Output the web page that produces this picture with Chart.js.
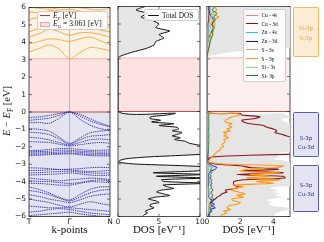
<!DOCTYPE html>
<html>
<head>
<meta charset="utf-8">
<script src="https://cdn.jsdelivr.net/npm/chart.js@4.4.1/dist/chart.umd.min.js"></script>
<style>
  html, body { margin: 0; padding: 0; background: #fff; }
  body { width: 324px; height: 242px; position: relative; overflow: hidden; font-family: 'Liberation Serif', serif; }
  canvas { position: absolute; top: 0; }
  .ylabel { position: absolute; left: 8px; top: 111px; transform: translate(-50%, -50%) rotate(-90deg); font-size: 10.5px; white-space: nowrap; color: #222; }
  .legend { position: absolute; box-sizing: border-box; background: rgba(255,255,255,0.85); border: 0.8px solid #cfcfcf; border-radius: 2px; }
  .legtext { position: absolute; white-space: nowrap; transform: translateY(-50%); color: #111; }
  .sample { position: absolute; }
  .note { position: absolute; box-sizing: border-box; border: 1px solid; border-radius: 1.5px; }
  .notetext { position: absolute; left: 0; width: 100%; text-align: center; font-family: 'DejaVu Sans', sans-serif; font-size: 5.5px; transform: translateY(-50%); }
</style>
</head>
<body>
<canvas id="bandChart" width="114" height="242" style="left:0"></canvas>
<canvas id="totalChart" width="96" height="242" style="left:110px"></canvas>
<canvas id="pdosChart" width="100" height="242" style="left:198px"></canvas>
<div class="ylabel"><i>E</i> − <i>E</i><sub style="font-size:7.5px">F</sub> [eV]</div>
<script>
// ---- energy window / gap ----
const eMin = -6, eMax = 6;
const fermiLevel = 0;
const gapTop = 3.061;
const yTicks = [-6, -5, -4, -3, -2, -1, 0, 1, 2, 3, 4, 5, 6];

// ---- band structure: k path T - Γ - N ----
const kPath = [0, 0.25, 0.5, 0.75, 1, 1.25, 1.5, 1.75, 2];
const kTickPos = [0, 1, 2];
const kTickLabels = ['T', 'Γ', 'N'];

const valenceBands = [
  [-0.32, -0.28, -0.2, -0.08, 0.0, -0.12, -0.38, -0.62, -0.82],
  [-0.48, -0.42, -0.35, -0.18, 0.0, -0.22, -0.5, -0.7, -0.85],
  [-0.62, -0.6, -0.65, -0.35, 0.0, -0.4, -0.75, -0.95, -1.05],
  [-0.95, -1.0, -1.1, -1.45, -1.8, -1.5, -1.2, -1.1, -1.05],
  [-1.15, -1.2, -1.3, -1.55, -1.85, -1.6, -1.4, -1.35, -1.3],
  [-1.45, -1.5, -1.6, -1.75, -1.9, -1.75, -1.6, -1.55, -1.6],
  [-1.7, -1.72, -1.75, -1.85, -1.95, -1.88, -1.8, -1.75, -1.8],
  [-2.2, -2.2, -2.15, -2.1, -2.1, -2.15, -2.2, -2.2, -2.18],
  [-2.28, -2.27, -2.25, -2.2, -2.2, -2.25, -2.28, -2.3, -2.3],
  [-2.35, -2.35, -2.33, -2.3, -2.28, -2.32, -2.36, -2.38, -2.4],
  [-2.42, -2.42, -2.4, -2.38, -2.36, -2.4, -2.45, -2.46, -2.46],
  [-2.5, -2.48, -2.45, -2.42, -2.4, -2.45, -2.5, -2.52, -2.52],
  [-3.2, -3.22, -3.25, -3.3, -3.28, -3.25, -3.2, -3.18, -3.2],
  [-3.35, -3.35, -3.32, -3.3, -3.32, -3.38, -3.42, -3.4, -3.35],
  [-3.5, -3.48, -3.45, -3.42, -3.4, -3.45, -3.5, -3.52, -3.5],
  [-3.62, -3.6, -3.58, -3.55, -3.5, -3.55, -3.62, -3.65, -3.62],
  [-3.8, -3.85, -3.9, -3.95, -3.9, -3.85, -3.8, -3.82, -3.88],
  [-3.95, -3.98, -4.0, -4.05, -4.1, -4.05, -3.95, -3.9, -3.95],
  [-4.1, -4.1, -4.15, -4.2, -4.2, -4.1, -4.0, -4.02, -4.05],
  [-4.3, -4.45, -4.65, -4.9, -5.05, -4.75, -4.45, -4.3, -4.3],
  [-4.5, -4.6, -4.75, -4.95, -5.1, -4.9, -4.65, -4.5, -4.45],
  [-4.75, -4.85, -5.0, -5.1, -5.2, -5.05, -4.85, -4.75, -4.7],
  [-5.0, -5.1, -5.2, -5.35, -5.45, -5.3, -5.15, -5.25, -5.35],
  [-5.4, -5.45, -5.5, -5.5, -5.5, -5.55, -5.6, -5.65, -5.7],
  [-5.75, -5.7, -5.6, -5.55, -5.6, -5.7, -5.8, -5.85, -5.9],
  [-5.95, -5.9, -5.85, -5.8, -5.75, -5.85, -5.92, -5.98, -6.05]
];

const conductionBands = [
  [3.45, 3.65, 3.85, 3.6, 3.06, 3.4, 3.7, 3.65, 3.5],
  [3.9, 4.05, 4.2, 4.15, 4.05, 4.2, 4.3, 4.1, 3.85],
  [4.3, 4.5, 4.75, 4.6, 4.4, 4.55, 4.55, 4.45, 4.3],
  [4.6, 4.8, 4.95, 4.85, 4.75, 4.85, 4.9, 4.7, 4.6],
  [5.3, 5.45, 5.5, 5.35, 5.15, 5.35, 5.1, 4.95, 4.85],
  [5.75, 5.7, 5.8, 5.85, 5.9, 5.8, 5.6, 5.5, 5.45],
  [6.05, 5.95, 5.9, 6.0, 6.1, 6.0, 5.9, 5.85, 5.95]
];

// ---- DOS: shared energy grid (eV) ----
const energies = [
  6.0, 5.8, 5.6, 5.4, 5.2, 5.0, 4.8, 4.6, 4.4, 4.2, 4.0, 3.8, 3.6, 3.4, 3.2, 3.06, 0.0,
  -0.1, -0.2, -0.3, -0.4, -0.5, -0.6, -0.7, -0.8, -0.9, -1.0,
  -1.1, -1.2, -1.3, -1.4, -1.5, -1.6, -1.7, -1.8, -1.9, -2.0,
  -2.1, -2.2, -2.3, -2.4, -2.5, -2.6, -2.7, -2.8, -2.9, -3.0,
  -3.1, -3.2, -3.3, -3.4, -3.5, -3.6, -3.7, -3.8, -3.9, -4.0,
  -4.1, -4.2, -4.3, -4.4, -4.5, -4.6, -4.7, -4.8, -4.9, -5.0,
  -5.1, -5.2, -5.3, -5.4, -5.5, -5.6, -5.7, -5.8, -5.9, -6.0
];

const totalDos = [
  3.3, 2.2, 3.6, 2.8, 4.2, 5.0, 4.6, 6.3, 5.0, 5.6, 4.6, 4.4, 3.4, 1.8, 0.5, 0, 0,
  7.0, 6.0, 4.0, 3.9, 5.2, 4.1, 6.8, 5.0, 7.2, 7.4,
  6.6, 7.8, 7.3, 6.6, 7.6, 6.9, 8.2, 8.6, 9.6, 11,
  14, 16, 15, 12, 8.0, 3.5, 1.0, 0.2, 0.1, 2.0,
  8.0, 12, 11, 9.5, 4.3, 10.5, 4.7, 10.5, 5.3, 5.6,
  11, 5.5, 6.0, 6.8, 5.2, 4.7, 5.5, 6.3, 4.5, 3.7,
  4.6, 5.0, 4.0, 3.9, 4.4, 3.8, 3.3, 3.6, 3.2, 3.0
];

// grey shading behind the projected DOS
const pdosShade = [
  6, 6, 6, 6, 6, 6, 6, 6, 6, 6, 6, 6, 4.6, 1.5, 0.3, 0, 0,
  4.6, 4.7, 5.2, 4.6, 4.5, 4.7, 5.5, 5.5, 5.5, 5.5,
  5.5, 5.5, 5.5, 5.5, 5.5, 4.8, 5.2, 4.9, 6, 6,
  6, 6, 4.8, 4.3, 4.2, 4.4, 4.0, 4.6, 5, 6,
  6, 6, 6, 6, 6, 6, 6, 6, 6, 6,
  6, 6, 4.2, 3.8, 4.3, 4.0, 4.4, 4.1, 4.6, 3.8,
  3.6, 3.9, 3.7, 4.0, 4.8, 5, 4.5, 4.2, 4.0, 4.1
];

const cu4s = [
  0.1, 0.1, 0.15, 0.1, 0.1, 0.05, 0.05, 0.05, 0.05, 0.05, 0.02, 0.02, 0.02, 0.01, 0, 0, 0,
  0.02, 0.02, 0.02, 0.02, 0.02, 0.02, 0.02, 0.02, 0.02, 0.02,
  0.02, 0.02, 0.02, 0.02, 0.02, 0.02, 0.02, 0.02, 0.02, 0.02,
  0.02, 0.02, 0.02, 0.02, 0.02, 0.02, 0.01, 0.01, 0.01, 0.05,
  0.1, 0.15, 0.1, 0.1, 0.15, 0.1, 0.1, 0.15, 0.2, 0.15,
  0.2, 0.25, 0.3, 0.2, 0.35, 0.25, 0.2, 0.3, 0.25, 0.2,
  0.3, 0.2, 0.25, 0.15, 0.2, 0.1, 0.15, 0.1, 0.1, 0.1
];
const cu3d = [
  0.1, 0.15, 0.1, 0.1, 0.1, 0.05, 0.05, 0.05, 0.05, 0.05, 0.02, 0.02, 0.02, 0.01, 0, 0, 0,
  2.0, 2.1, 3.2, 2.9, 2.1, 2.2, 2.6, 3.4, 3.6, 4.0,
  4.2, 4.1, 4.5, 4.8, 5.2, 6, 7, 8, 9, 10,
  12, 12, 10, 7, 2.5, 0.3, 0.1, 0.1, 0.1, 0.5,
  2.0, 2.6, 4.3, 2.2, 4.6, 1.8, 4.6, 4.7, 2.2, 1.6,
  1.6, 1.6, 1.9, 1.7, 1.1, 1.2, 0.9, 0.8, 0.6, 0.5,
  0.3, 0.2, 0.2, 0.15, 0.1, 0.1, 0.1, 0.1, 0.1, 0.1
];
const zn4s = [
  0.2, 0.15, 0.25, 0.2, 0.15, 0.2, 0.1, 0.1, 0.05, 0.05, 0.05, 0.02, 0.02, 0.01, 0, 0, 0,
  0.02, 0.02, 0.02, 0.02, 0.02, 0.02, 0.02, 0.02, 0.02, 0.02,
  0.02, 0.02, 0.02, 0.02, 0.02, 0.02, 0.02, 0.02, 0.02, 0.02,
  0.02, 0.02, 0.02, 0.02, 0.02, 0.02, 0.02, 0.02, 0.02, 0.05,
  0.05, 0.08, 0.06, 0.05, 0.05, 0.05, 0.05, 0.05, 0.05, 0.05,
  0.05, 0.05, 0.06, 0.08, 0.1, 0.1, 0.12, 0.1, 0.15, 0.2,
  0.25, 0.15, 0.2, 0.15, 0.1, 0.1, 0.1, 0.08, 0.08, 0.05
];
const zn3d = [
  0.1, 0.1, 0.15, 0.3, 0.4, 0.3, 0.35, 0.3, 0.2, 0.1, 0.05, 0.02, 0.02, 0.01, 0, 0, 0,
  0.03, 0.03, 0.03, 0.03, 0.03, 0.03, 0.03, 0.03, 0.03, 0.03,
  0.03, 0.03, 0.03, 0.03, 0.03, 0.03, 0.03, 0.03, 0.03, 0.03,
  0.04, 0.04, 0.05, 0.05, 0.05, 0.05, 0.05, 0.05, 0.1, 0.2,
  0.35, 0.6, 0.5, 0.25, 0.15, 0.1, 0.1, 0.12, 0.1, 0.1,
  0.1, 0.08, 0.08, 0.1, 0.1, 0.1, 0.1, 0.12, 0.1, 0.2,
  0.4, 0.25, 0.45, 0.3, 0.5, 0.2, 0.3, 0.15, 0.1, 0.1
];
const s3s = [
  0.05, 0.05, 0.08, 0.05, 0.05, 0.05, 0.03, 0.03, 0.03, 0.02, 0.02, 0.02, 0.01, 0.01, 0, 0, 0,
  0.02, 0.02, 0.02, 0.02, 0.02, 0.02, 0.02, 0.02, 0.02, 0.02,
  0.02, 0.02, 0.02, 0.02, 0.02, 0.02, 0.02, 0.02, 0.02, 0.02,
  0.02, 0.02, 0.02, 0.02, 0.02, 0.02, 0.02, 0.02, 0.02, 0.02,
  0.02, 0.03, 0.03, 0.02, 0.02, 0.02, 0.02, 0.03, 0.03, 0.03,
  0.03, 0.03, 0.03, 0.04, 0.05, 0.05, 0.05, 0.04, 0.05, 0.05,
  0.05, 0.08, 0.1, 0.08, 0.1, 0.12, 0.1, 0.15, 0.2, 0.25
];
const s3p = [
  0.4, 0.6, 0.3, 0.7, 0.3, 0.5, 0.3, 0.4, 0.2, 0.25, 0.15, 0.15, 0.1, 0.05, 0.02, 0, 0,
  1.6, 2.0, 1.5, 1.3, 1.1, 1.1, 1.5, 1.3, 1.5, 1.2,
  1.4, 1.0, 1.2, 1.0, 1.3, 1.0, 1.1, 1.0, 0.9, 1.0,
  0.8, 0.8, 0.6, 0.5, 0.4, 0.3, 0.2, 0.1, 0.1, 1.0,
  4.6, 4.2, 2.5, 2.0, 4.4, 2.6, 3.8, 2.4, 4.4, 3.0,
  4.0, 1.6, 2.2, 1.6, 1.5, 1.9, 2.3, 1.8, 2.2, 1.5,
  1.6, 2.0, 1.8, 1.3, 1.2, 1.4, 1.0, 1.2, 0.9, 0.8
];
const si3s = [
  0.3, 0.2, 0.35, 0.25, 0.3, 0.2, 0.2, 0.15, 0.1, 0.1, 0.05, 0.05, 0.02, 0.01, 0, 0, 0,
  0.02, 0.02, 0.02, 0.02, 0.02, 0.02, 0.02, 0.02, 0.02, 0.02,
  0.02, 0.02, 0.02, 0.02, 0.02, 0.02, 0.02, 0.02, 0.02, 0.02,
  0.02, 0.02, 0.02, 0.02, 0.02, 0.02, 0.02, 0.02, 0.02, 0.05,
  0.05, 0.05, 0.05, 0.05, 0.05, 0.05, 0.05, 0.05, 0.05, 0.05,
  0.05, 0.05, 0.08, 0.1, 0.1, 0.12, 0.1, 0.15, 0.12, 0.15,
  0.2, 0.15, 0.2, 0.15, 0.1, 0.1, 0.08, 0.08, 0.05, 0.05
];
const si3p = [
  0.5, 0.3, 0.6, 0.4, 0.5, 0.3, 0.45, 0.3, 0.35, 0.25, 0.2, 0.15, 0.1, 0.05, 0.02, 0, 0,
  0.1, 0.12, 0.1, 0.1, 0.1, 0.12, 0.1, 0.1, 0.12, 0.1,
  0.1, 0.1, 0.12, 0.1, 0.1, 0.1, 0.12, 0.1, 0.1, 0.1,
  0.08, 0.08, 0.08, 0.06, 0.05, 0.04, 0.03, 0.02, 0.02, 0.1,
  0.2, 0.3, 0.25, 0.2, 0.3, 0.2, 0.25, 0.2, 0.3, 0.25,
  0.3, 0.2, 0.25, 0.3, 0.35, 0.25, 0.3, 0.35, 0.3, 0.4,
  0.35, 0.3, 0.25, 0.3, 0.2, 0.25, 0.2, 0.15, 0.15, 0.1
];

const pdosLabels = ['Cu - 4s', 'Cu - 3d', 'Zn - 4s', 'Zn - 3d', 'S - 3s', 'S - 3p', 'Si - 3s', 'Si- 3p'];
const pdosSeries = [cu4s, cu3d, zn4s, zn3d, s3s, s3p, si3s, si3p];
const pdosColors = ['#f27a7a', '#8e1414', '#27c4f2', '#1414c8', '#d8a878', '#ff9812', '#8ed88e', '#1e7a30'];
const pdosWidths = [0.8, 1.1, 0.8, 1.0, 0.8, 1.1, 0.8, 1.0];

const totalTicks = [0, 5, 10];
const pdosTicks = [0, 2, 4];

// ---- colours ----
const valenceFill = '#e3e3f1';
const gapFill = '#fde2e2';
const gapFillLight = '#fdeeee';
const conductionFill = '#fdf2e3';
const fermiColor = '#b23a3a';
const gapLineColor = '#f3a3a3';

Chart.defaults.font.family = "'DejaVu Sans', sans-serif";
Chart.defaults.color = '#222';

// spans, reference lines, frame and inward ticks, all placed with the chart scales
const panelDecor = {
  id: 'panelDecor',
  beforeDraw(chart, args, opts) {
    const {ctx, chartArea: a, scales} = chart;
    const y = scales.y;
    ctx.save();
    (opts.spans || []).forEach(s => {
      const top = y.getPixelForValue(s.to), bot = y.getPixelForValue(s.from);
      ctx.fillStyle = s.color;
      ctx.fillRect(a.left, top, a.right - a.left, bot - top);
    });
    ctx.restore();
  },
  beforeDatasetsDraw(chart, args, opts) {
    const {ctx, chartArea: a, scales} = chart;
    const y = scales.y;
    ctx.save();
    (opts.lines || []).forEach(l => {
      const py = y.getPixelForValue(l.at);
      ctx.strokeStyle = l.color;
      ctx.lineWidth = l.width;
      ctx.beginPath();
      ctx.moveTo(a.left, py);
      ctx.lineTo(a.right, py);
      ctx.stroke();
    });
    ctx.restore();
    if (!opts.frameOnTop) drawFrame(chart, opts);
  },
  afterDatasetsDraw(chart, args, opts) {
    if (opts.frameOnTop) drawFrame(chart, opts);
  }
};

function drawFrame(chart, opts) {
  const {ctx, chartArea: a, scales} = chart;
  ctx.save();
  ctx.strokeStyle = '#222';
  ctx.lineWidth = 0.8;
  ctx.strokeRect(a.left, a.top, a.right - a.left, a.bottom - a.top);
  ctx.lineWidth = 0.6;
  ctx.beginPath();
  (opts.yTicks || []).forEach(v => {
    const py = scales.y.getPixelForValue(v);
    ctx.moveTo(a.left, py); ctx.lineTo(a.left + 3, py);
    ctx.moveTo(a.right, py); ctx.lineTo(a.right - 3, py);
  });
  (opts.xTicks || []).forEach(v => {
    const px = scales.x.getPixelForValue(v);
    ctx.moveTo(px, a.bottom); ctx.lineTo(px, a.bottom - 3);
    ctx.moveTo(px, a.top); ctx.lineTo(px, a.top + 3);
  });
  ctx.stroke();
  ctx.restore();
}

Chart.register(panelDecor);

const tickFont = { size: 7.5, family: "'DejaVu Sans', sans-serif" };
const titleFont = { size: 11, family: "'Liberation Serif', serif" };
const minusSign = v => (v < 0 ? '\u2212' + Math.abs(v) : String(v));

// 1. Band structure
const bandSets = [];
valenceBands.forEach(b => bandSets.push({
  data: kPath.map((k, i) => ({ x: k, y: b[i] })),
  borderColor: '#2424a0', borderWidth: 0.9, borderDash: [1.3, 0.9],
  pointRadius: 0, tension: 0.3, fill: false
}));
conductionBands.forEach(b => bandSets.push({
  data: kPath.map((k, i) => ({ x: k, y: b[i] })),
  borderColor: '#f5a029', borderWidth: 0.8,
  pointRadius: 0, tension: 0.3, fill: false
}));

new Chart(document.getElementById('bandChart'), {
  type: 'line',
  data: { datasets: bandSets },
  options: {
    responsive: false, animation: false, devicePixelRatio: 1,
    layout: { padding: { left: 0, right: 4, top: 6.5, bottom: 0 } },
    plugins: {
      legend: { display: false }, tooltip: { enabled: false },
      panelDecor: {
        spans: [
          { from: eMin, to: fermiLevel, color: valenceFill },
          { from: fermiLevel, to: gapTop, color: gapFill },
          { from: gapTop, to: eMax, color: conductionFill }
        ],
        lines: [
          { at: gapTop, color: gapLineColor, width: 0.8 },
          { at: fermiLevel, color: fermiColor, width: 0.9 }
        ],
        yTicks: yTicks, frameOnTop: true
      }
    },
    scales: {
      x: {
        type: 'linear', min: 0, max: 2,
        afterBuildTicks: s => { s.ticks = kTickPos.map(v => ({ value: v })); },
        afterFit: s => { s.height = 25.5; },
        ticks: { font: tickFont, padding: 1, callback: (v, i) => kTickLabels[i] },
        grid: { drawTicks: false, lineWidth: 0.8, color: c => (c.tick && c.tick.value === 1 ? '#a8a8a8' : 'rgba(0,0,0,0)') },
        border: { display: false },
        title: { display: true, text: 'k-points', font: titleFont, color: '#111', padding: { top: 0, bottom: 5 } }
      },
      y: {
        type: 'linear', min: eMin, max: eMax,
        afterBuildTicks: s => { s.ticks = yTicks.map(v => ({ value: v })); },
        afterFit: s => { s.width = 29; },
        ticks: { font: tickFont, padding: 3, callback: v => minusSign(v) },
        grid: { display: false, drawTicks: false },
        border: { display: false }
      }
    }
  }
});

// 2. Total DOS
new Chart(document.getElementById('totalChart'), {
  type: 'line',
  data: {
    datasets: [{
      label: 'Total DOS',
      data: energies.map((e, i) => ({ x: totalDos[i], y: e })),
      borderColor: '#111', borderWidth: 1, backgroundColor: '#e6e6e6',
      fill: 'origin', pointRadius: 0, tension: 0.2
    }]
  },
  options: {
    indexAxis: 'y',
    responsive: false, animation: false, devicePixelRatio: 1,
    layout: { padding: { left: 8, right: 6, top: 6.5, bottom: 0 } },
    plugins: {
      legend: { display: false }, tooltip: { enabled: false },
      panelDecor: {
        spans: [{ from: fermiLevel, to: gapTop, color: gapFill }],
        lines: [
          { at: gapTop, color: gapLineColor, width: 0.8 },
          { at: fermiLevel, color: fermiColor, width: 0.9 }
        ],
        yTicks: yTicks, xTicks: totalTicks, frameOnTop: true
      }
    },
    scales: {
      x: {
        type: 'linear', min: 0, max: 10,
        afterBuildTicks: s => { s.ticks = totalTicks.map(v => ({ value: v })); },
        afterFit: s => { s.height = 25.5; },
        ticks: { font: tickFont, padding: 1 },
        grid: { display: false, drawTicks: false },
        border: { display: false },
        title: { display: true, text: 'DOS [eV\u207B\u00B9]', font: titleFont, color: '#111', padding: { top: 0, bottom: 5 } }
      },
      y: { type: 'linear', min: eMin, max: eMax, display: false }
    }
  }
});

// 3. Projected DOS (grey shade drawn first, Si-3p last)
const pdosSets = [{
  data: energies.map((e, i) => ({ x: pdosShade[i], y: e })),
  borderWidth: 0, borderColor: 'rgba(0,0,0,0)', backgroundColor: '#e5e5e5',
  fill: 'origin', pointRadius: 0, tension: 0.2, order: 20
}];
pdosSeries.forEach((vals, j) => pdosSets.push({
  label: pdosLabels[j],
  data: energies.map((e, i) => ({ x: vals[i], y: e })),
  borderColor: pdosColors[j], borderWidth: pdosWidths[j],
  fill: false, pointRadius: 0, tension: 0.2, order: pdosSeries.length - j
}));

new Chart(document.getElementById('pdosChart'), {
  type: 'line',
  data: { datasets: pdosSets },
  options: {
    indexAxis: 'y',
    responsive: false, animation: false, devicePixelRatio: 1,
    layout: { padding: { left: 9, right: 8, top: 6.5, bottom: 0 } },
    plugins: {
      legend: { display: false }, tooltip: { enabled: false },
      panelDecor: {
        spans: [{ from: fermiLevel, to: gapTop, color: gapFillLight }],
        lines: [
          { at: gapTop, color: gapLineColor, width: 0.8 },
          { at: fermiLevel, color: fermiColor, width: 0.9 }
        ],
        yTicks: yTicks, xTicks: pdosTicks, frameOnTop: false
      }
    },
    scales: {
      x: {
        type: 'linear', min: 0, max: 5,
        afterBuildTicks: s => { s.ticks = pdosTicks.map(v => ({ value: v })); },
        afterFit: s => { s.height = 25.5; },
        ticks: { font: tickFont, padding: 1 },
        grid: { display: false, drawTicks: false },
        border: { display: false },
        title: { display: true, text: 'DOS [eV\u207B\u00B9]', font: titleFont, color: '#111', padding: { top: 0, bottom: 5 } }
      },
      y: { type: 'linear', min: eMin, max: eMax, display: false }
    }
  }
});

// ---- legends (HTML so the subscripts stay real text) ----
function place(el, css) { Object.assign(el.style, css); document.body.appendChild(el); return el; }
function legendBox(x, y, w, h) {
  const d = document.createElement('div');
  d.className = 'legend';
  place(d, { left: x + 'px', top: y + 'px', width: w + 'px', height: h + 'px' });
}
function legendRow(y, x1, x2, tx, html, color, size, patch) {
  const s = document.createElement('div');
  s.className = 'sample';
  if (patch) place(s, { left: x1 + 'px', top: (y - 2.5) + 'px', width: (x2 - x1) + 'px', height: '5px', background: color, border: '0.5px solid ' + gapLineColor, boxSizing: 'border-box' });
  else place(s, { left: x1 + 'px', top: (y - 0.5) + 'px', width: (x2 - x1) + 'px', height: '1px', background: color });
  const t = document.createElement('div');
  t.className = 'legtext';
  t.innerHTML = html;
  place(t, { left: tx + 'px', top: y + 'px', fontSize: size + 'px' });
}

legendBox(37, 11, 71, 18.5);
legendRow(15.5, 40, 50, 53, '<i>E<sub style="font-size:5px">F</sub></i> [eV]', fermiColor, 7.5, false);
legendRow(24.3, 40, 50, 53, '<i>E<sub style="font-size:5px">G</sub></i> = 3.061 [eV]', gapFill, 7.5, true);

legendBox(144, 9, 55, 12);
legendRow(15, 148, 159, 162, 'Total DOS', '#111', 7.3, false);

legendBox(243, 9, 43, 73);
pdosLabels.forEach((lab, j) => {
  legendRow(15 + j * 8.7, 245.5, 258, 261.5, lab, pdosColors[j], 5.4, false);
});

// ---- orbital character notes ----
function note(x, y, w, h, lines, border, bg, color, centers) {
  const d = document.createElement('div');
  d.className = 'note';
  place(d, { left: x + 'px', top: y + 'px', width: w + 'px', height: h + 'px', borderColor: border, background: bg });
  lines.forEach((txt, i) => {
    const t = document.createElement('div');
    t.className = 'notetext';
    t.textContent = txt;
    t.style.top = (centers[i] - y - 1) + 'px';
    t.style.color = color;
    d.appendChild(t);
  });
}
note(293, 7, 26, 50, ['Si-3p', 'S-3p'], '#f6b45e', '#fdebd3', '#f0a030', [28.3, 37.5]);
note(293, 112, 26, 45, ['S-3p', 'Cu-3d'], '#5a5ab4', '#e3e3f2', '#2b2b90', [138.3, 146.5]);
note(293, 165, 26, 47, ['S-3p', 'Cu-3d'], '#5a5ab4', '#e3e3f2', '#2b2b90', [185, 194]);
</script>
</body>
</html>
